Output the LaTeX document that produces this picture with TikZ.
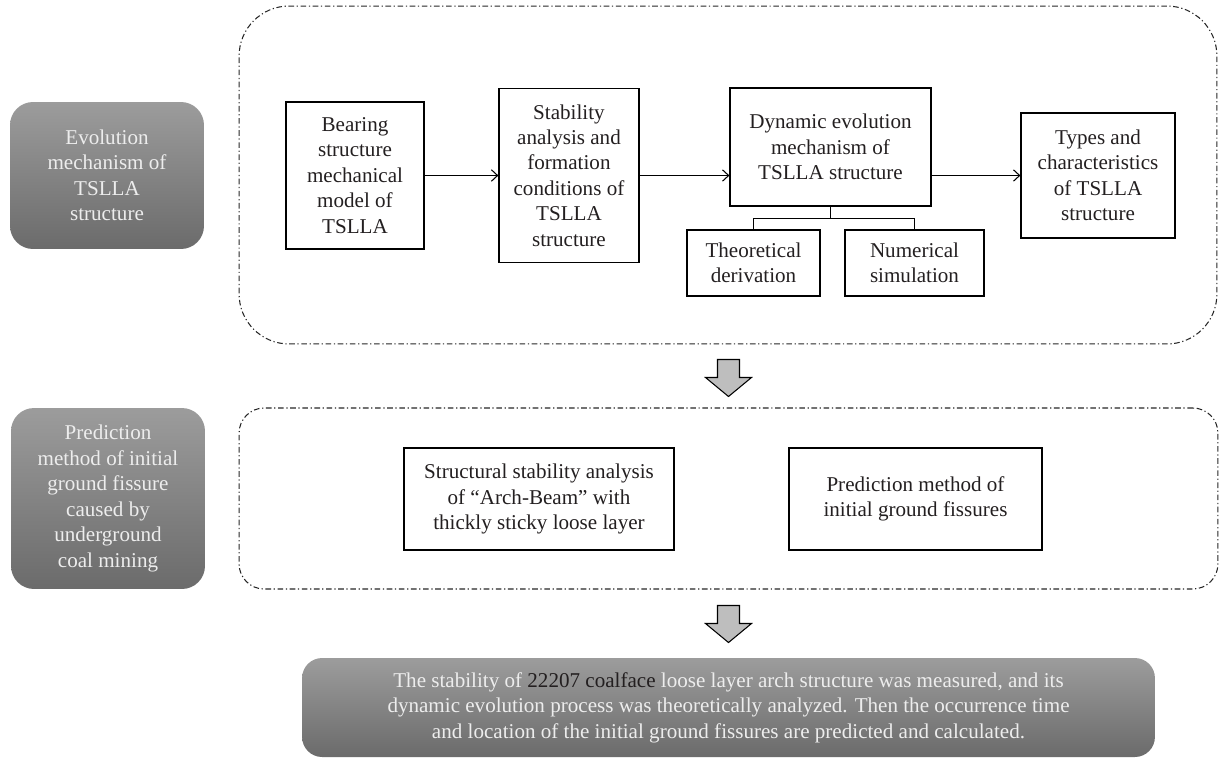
\documentclass[tikz,border=0pt]{standalone}
\usepackage{fontspec}
\setmainfont{Liberation Serif}
\usetikzlibrary{shapes,arrows,arrows.meta,calc,positioning}
\definecolor{greytop}{HTML}{9C9C9C}
\definecolor{greybot}{HTML}{6B6B6B}
\definecolor{blkfill}{HTML}{BEBEBE}
\definecolor{ink}{HTML}{231F20}
\newcommand{\bigdown}[1]{\draw[blk] (#1) ++(-11,0) -- ++(22,0) -- ++(0,18) -- ++(12,0) -- ++(-23,19) -- ++(-23,-19) -- ++(12,0) -- cycle;}
\tikzstyle{ptr}   = [draw, -{Straight Barb[length=3.5pt,width=6.5pt]}, line width=0.6pt]
\tikzstyle{box}   = [rectangle, draw, align=center, inner sep=0pt, line width=0.7pt, text=ink]
\tikzstyle{grey}  = [rectangle, rounded corners=0.46cm, top color=greytop, bottom color=greybot, align=center, inner sep=0pt, text=white!93!black]
\tikzstyle{frame} = [rectangle, draw=black!85, line width=0.6pt, dash pattern=on 3.2pt off 1.5pt on 0.7pt off 1.5pt]
\tikzstyle{blk}   = [fill=blkfill, draw, line width=0.6pt, line join=miter]

\begin{document}
\begin{tikzpicture}[x=0.02cm, y=-0.02cm, font=\fontsize{12}{14.5}\selectfont]
    \useasboundingbox (0,0) rectangle (1220,761);

    % frames
    \node[frame, rounded corners=1.0cm, minimum width=19.56cm, minimum height=6.76cm]  (topframe) at (728,175) {};
    \node[frame, rounded corners=0.5cm, minimum width=19.58cm, minimum height=3.62cm]  (midframe) at (728.5,498.5) {};

    % left labels
    \node[grey, minimum width=3.88cm, minimum height=2.94cm] (evo)  at (107,175.5) {Evolution\\mechanism of\\TSLLA\\structure};
    \node[grey, minimum width=3.88cm, minimum height=3.62cm] (pred) at (108,498.5) {Prediction\\method of initial\\ground fissure\\caused by\\underground\\coal mining};

    % first stage
    \node[box, minimum width=2.76cm, minimum height=2.94cm] (bearing) at (355,175.5) {Bearing\\structure\\mechanical\\model of\\TSLLA};
    \node[box, minimum width=2.80cm, minimum height=3.48cm, right of=bearing, node distance=4.28cm] (stab) {Stability\\analysis and\\formation\\conditions of\\TSLLA\\structure};
    \node[box, minimum width=4.02cm, minimum height=2.36cm] (dyn)   at (830.5,147) {Dynamic evolution\\mechanism of\\TSLLA structure};
    \node[box, minimum width=2.66cm, minimum height=1.32cm] (theo)  at (753.5,263) {Theoretical\\derivation};
    \node[box, minimum width=2.78cm, minimum height=1.32cm] (num)   at (914.5,263) {Numerical\\simulation};
    \node[box, minimum width=3.08cm, minimum height=2.50cm] (types) at (1098,175.5) {Types and\\characteristics\\of TSLLA\\structure};

    \path[ptr] (bearing.east) -- (stab.west);
    \path[ptr] (stab.east) -- (stab.east -| dyn.west);
    \path[ptr] (dyn.east |- types.west) -- (types.west);
    \draw[line width=0.6pt] (dyn.south) -- ++(0,12) coordinate (fork);
    \draw[line width=0.6pt] (theo.north) |- (fork) -| (num.north);

    % second stage
    \node[box, minimum width=5.40cm, minimum height=2.04cm] (struct) at (539,499) {Structural stability analysis\\of \textquotedblleft Arch-Beam\textquotedblright\ with\\thickly sticky loose layer};
    \node[box, minimum width=5.06cm, minimum height=2.04cm] (predm)  at (915.5,499) {Prediction method of\\initial ground fissures};

    % result
    \node[grey, rounded corners=0.4cm, minimum width=17.06cm, minimum height=1.98cm] (final) at (728.5,707.5) {The stability of {\color{ink}22207 coalface} loose layer arch structure was measured, and its\\dynamic evolution process was theoretically analyzed. Then the occurrence time\\and location of the initial ground fissures are predicted and calculated.};

    \coordinate (a1) at ($(topframe.south)+(0.5,15)$);
    \coordinate (a2) at ($(midframe.south)+(0,16)$);
    \bigdown{a1}
    \bigdown{a2}

\end{tikzpicture}
\end{document}
